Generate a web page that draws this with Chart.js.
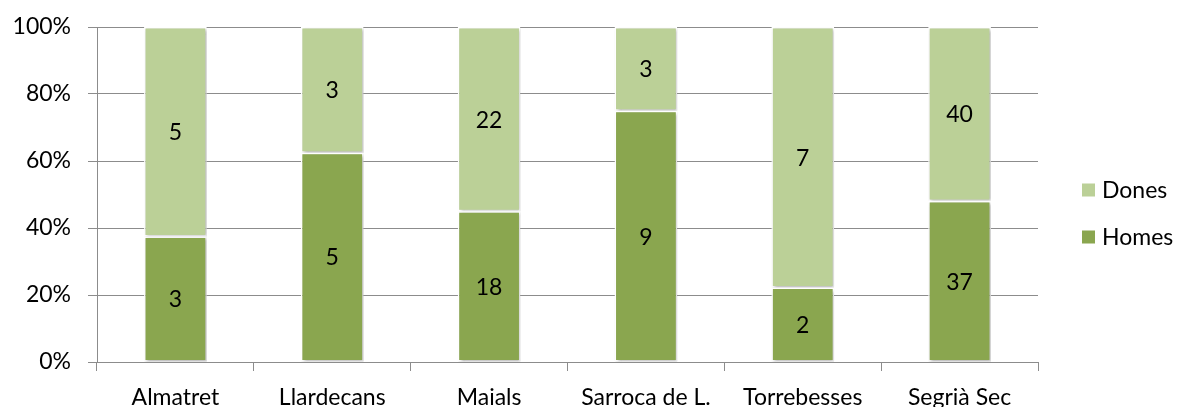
<!DOCTYPE html>
<html>
<head>
<meta charset="utf-8">
<script src="https://cdn.jsdelivr.net/npm/chart.js@4"></script>
<style>
  html, body { margin: 0; padding: 0; background: #fff; }
  #wrap { width: 1181px; height: 407px; }
</style>
</head>
<body>
<div id="wrap"><canvas id="chart" width="1181" height="407"></canvas></div>
<script>
const categories = ['Almatret', 'Llardecans', 'Maials', 'Sarroca de L.', 'Torrebesses', 'Segrià Sec'];
const homes = [3, 5, 18, 9, 2, 37];
const dones = [5, 3, 22, 3, 7, 40];
const yTicks = [0, 20, 40, 60, 80, 100];

const darkGreen = '#8AA64F';
const lightGreen = '#BBD097';
const gridGray = '#8C8C8C';
const FONT = 'Lato, "Open Sans", sans-serif';
const FONT_SIZE = 23;

// share of each group per town (100% stacked)
const pct = (a, b) => a.map((v, i) => v / (v + b[i]) * 100);
const homesPct = pct(homes, dones);
const donesPct = pct(dones, homes);

const ctx = document.getElementById('chart').getContext('2d');

// value labels in the middle of each segment
const segmentLabels = {
  id: 'segmentLabels',
  afterDatasetsDraw(chart) {
    const c = chart.ctx;
    c.save();
    c.font = FONT_SIZE + 'px ' + FONT;
    c.fillStyle = '#000';
    c.textAlign = 'center';
    c.textBaseline = 'middle';
    chart.data.datasets.forEach((ds, di) => {
      chart.getDatasetMeta(di).data.forEach((bar, i) => {
        const mid = (bar.y + bar.base) / 2;
        c.fillText(String(ds.counts[i]), bar.x, mid + 1);
      });
    });
    c.restore();
  }
};

// soft shadow under the bars
const barShadow = {
  id: 'barShadow',
  beforeDatasetsDraw(chart) {
    const c = chart.ctx;
    c.save();
    c.shadowColor = 'rgba(0,0,0,0.28)';
    c.shadowBlur = 3;
    c.shadowOffsetX = 1.5;
    c.shadowOffsetY = 1.5;
  },
  afterDatasetsDraw(chart) {
    chart.ctx.restore();
  }
};

// legend on the right, Dones above Homes
const sideLegend = {
  id: 'sideLegend',
  afterDraw(chart) {
    const c = chart.ctx;
    const area = chart.chartArea;
    const x = area.right + 44;
    const mid = (area.top + area.bottom) / 2;
    const items = [
      { text: 'Dones', color: lightGreen, y: mid - 5 },
      { text: 'Homes', color: darkGreen, y: mid + 42 }
    ];
    c.save();
    c.font = FONT_SIZE + 'px ' + FONT;
    c.textBaseline = 'middle';
    items.forEach(it => {
      c.fillStyle = it.color;
      c.fillRect(x, it.y - 6, 13, 13);
      c.fillStyle = '#000';
      c.fillText(it.text, x + 20, it.y + 1);
    });
    c.restore();
  }
};

new Chart(ctx, {
  type: 'bar',
  data: {
    labels: categories,
    datasets: [
      {
        label: 'Homes',
        data: homesPct,
        counts: homes,
        backgroundColor: darkGreen,
        borderColor: '#fff',
        borderWidth: 1.5,
        borderSkipped: false,
        categoryPercentage: 1,
        barPercentage: 0.4
      },
      {
        label: 'Dones',
        data: donesPct,
        counts: dones,
        backgroundColor: lightGreen,
        borderColor: '#fff',
        borderWidth: 1.5,
        borderSkipped: false,
        categoryPercentage: 1,
        barPercentage: 0.4
      }
    ]
  },
  options: {
    responsive: false,
    animation: false,
    devicePixelRatio: 1,
    layout: { padding: { top: 27, right: 143, left: 0, bottom: 0 } },
    plugins: {
      legend: { display: false },
      tooltip: { enabled: false }
    },
    scales: {
      x: {
        stacked: true,
        grid: {
          display: true,
          drawOnChartArea: false,
          offset: true,
          tickLength: 9,
          color: gridGray
        },
        border: { color: gridGray, width: 1 },
        ticks: {
          color: '#000',
          font: { family: FONT, size: FONT_SIZE },
          padding: 13,
          maxRotation: 0,
          autoSkip: false
        },
        afterFit(scale) { scale.height = 45; }
      },
      y: {
        stacked: true,
        min: 0,
        max: 100,
        afterBuildTicks(scale) {
          scale.ticks = yTicks.map(v => ({ value: v }));
        },
        grid: {
          color: gridGray,
          tickLength: 9,
          lineWidth: 1
        },
        border: { color: gridGray, width: 1 },
        ticks: {
          color: '#000',
          font: { family: FONT, size: FONT_SIZE, lineHeight: 0.4 },
          padding: 17,
          callback: v => v + '%'
        },
        afterFit(scale) { scale.width = 97; }
      }
    }
  },
  plugins: [barShadow, segmentLabels, sideLegend]
});
</script>
</body>
</html>
